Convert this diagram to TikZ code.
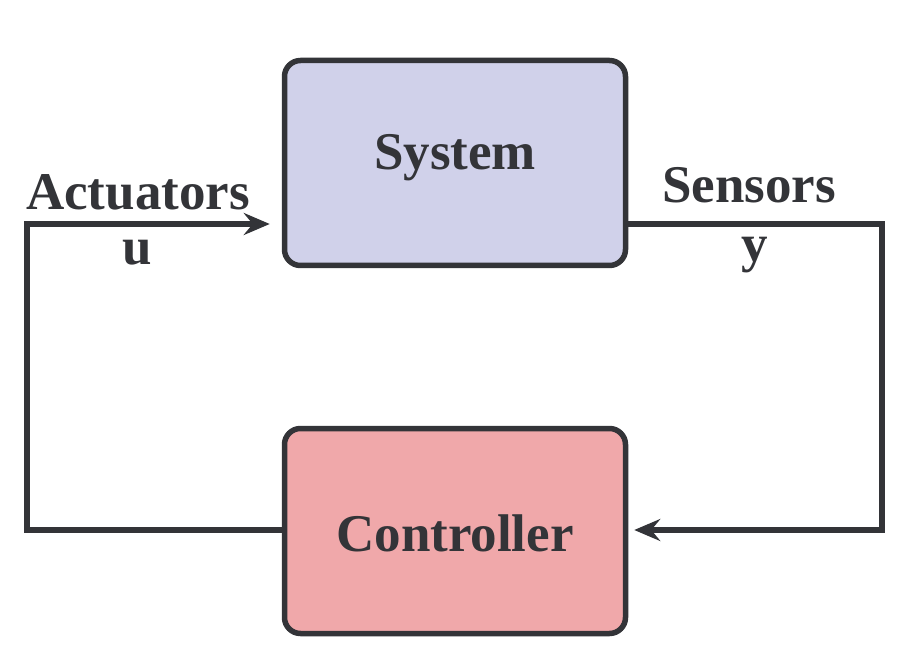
\documentclass[tikz,border=0pt]{standalone}
\usepackage{fontspec}
\setmainfont{Liberation Serif}
\usetikzlibrary{arrows.meta}
\definecolor{ink}{HTML}{333438}
\definecolor{sysfill}{HTML}{D0D1EA}
\definecolor{ctlfill}{HTML}{F0A8AA}
\tikzset{
  blockbox/.style={draw=ink, line width=5.5pt, rounded corners=16pt, minimum width=341pt, minimum height=205pt, inner sep=0pt},
  wire/.style={draw=ink, line width=5.5pt},
  arr/.style={-{Stealth[length=26pt,width=22pt,inset=9pt]}},
  lbl/.style={text=ink, font=\fontsize{53}{55}\selectfont\bfseries, inner sep=0pt},
}
\begin{document}
\begin{tikzpicture}[x=1pt,y=-1pt]
\useasboundingbox (0,0) rectangle (908,660);
\node[blockbox, fill=sysfill] (sys) at (455,163) {};
\node[blockbox, fill=ctlfill] (ctl) at (455,531) {};
\node[lbl] (systxt) at (455,158) {System};
\node[lbl] (ctltxt) at (455,533) {Controller};
\coordinate (tl) at (27,224);
\coordinate (bl) at (27,530);
\coordinate (tr) at (882,224);
\coordinate (br) at (882,530);
\draw[wire, arr] (ctl.west |- bl) -- (bl) -- (tl) -- ([xshift=-12pt]sys.west |- tl);
\draw[wire, arr] (sys.east |- tr) -- (tr) -- (br) -- ([xshift=6pt]ctl.east |- br);
\node[lbl, anchor=base] (act) at (138,210) {Actuators};
\node[lbl, anchor=base] (u) at (137,265) {u};
\node[lbl, anchor=base] (sen) at (749,203) {Sensors};
\node[lbl, anchor=base] (y) at (755,262) {y};
\end{tikzpicture}
\end{document}
